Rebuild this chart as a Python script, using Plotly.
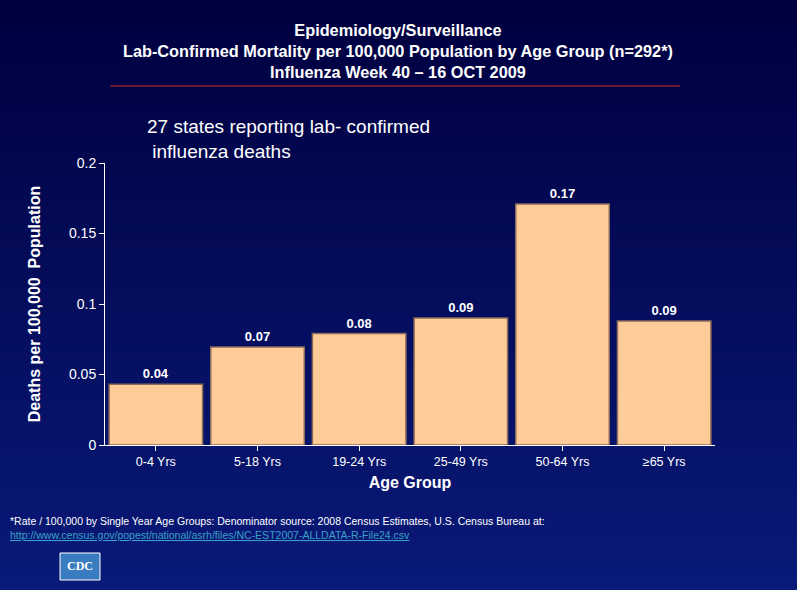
import plotly.graph_objects as go

categories = ["0-4 Yrs", "5-18 Yrs", "19-24 Yrs", "25-49 Yrs", "50-64 Yrs", "≥65 Yrs"]
values = [0.043, 0.0695, 0.079, 0.09, 0.171, 0.088]
labels = ["<b>0.04</b>", "<b>0.07</b>", "<b>0.08</b>", "<b>0.09</b>", "<b>0.17</b>", "<b>0.09</b>"]

W, H = 797, 590
fig = go.Figure(go.Bar(
    x=categories, y=values, text=labels, textposition="outside",
    textfont=dict(color="white", size=13, family="Arial, Liberation Sans"),
    marker=dict(color="#FFCC99", line=dict(color="#8a6a5a", width=1.5)),
    width=0.92, cliponaxis=False,
))

shapes = []
n = 60
top = (0, 0, 0x40)
bot = (0x0a, 0x1a, 0x78)
def px(x):
    return (x - 105) / (715 - 105)
def py(y):
    return (445 - y) / (445 - 163)
for i in range(n):
    t = i / (n - 1)
    c = tuple(int(top[k] + (bot[k] - top[k]) * t) for k in range(3))
    shapes.append(dict(type="rect", xref="paper", yref="paper", layer="below",
                       x0=px(-5), x1=px(805), y0=py(H * (i + 1) / n + 2), y1=py(H * i / n - 2),
                       fillcolor="rgb(%d,%d,%d)" % c, line=dict(width=0)))

shapes.append(dict(type="line", xref="paper", yref="paper", x0=px(110), x1=px(680),
                   y0=py(86), y1=py(86), line=dict(color="#d03020", width=1.2)))
shapes.append(dict(type="rect", xref="paper", yref="paper", x0=px(60), x1=px(100),
                   y0=py(580), y1=py(553), fillcolor="#3a7cc0", line=dict(color="white", width=1)))

def A(text, x, y, size, color="white", xanchor="center", **kw):
    return dict(text=text, x=px(x), y=py(y), xref="paper", yref="paper", xanchor=xanchor,
                yanchor="middle", showarrow=False,
                font=dict(size=size, color=color, family="Arial, Liberation Sans"), **kw)

ann = [
    A("<b>Epidemiology/Surveillance<br>Lab-Confirmed Mortality per 100,000 Population by Age Group (n=292*)<br>Influenza Week 40 – 16 OCT 2009</b>", 398, 51, 16.3),
    A("27 states reporting lab- confirmed<br> influenza deaths", 145, 139, 19, xanchor="left", align="left"),
    A("*Rate / 100,000 by Single Year Age Groups: Denominator source: 2008 Census Estimates, U.S. Census Bureau at:", 8, 521, 10.5, xanchor="left"),
    A("<u>http://www.census.gov/popest/national/asrh/files/NC-EST2007-ALLDATA-R-File24.csv</u>", 8, 535, 10.5, color="#3aa0c8", xanchor="left"),
    dict(text="<b>CDC</b>", x=px(80), y=py(566), xref="paper", yref="paper", showarrow=False,
         xanchor="center", yanchor="middle", font=dict(size=12, color="white", family="Liberation Serif")),
]

fig.update_layout(
    width=W, height=H, margin=dict(l=105, r=W - 715, t=163, b=H - 445),
    paper_bgcolor="#000040", plot_bgcolor="rgba(0,0,0,0)",
    shapes=shapes, annotations=ann, showlegend=False, bargap=0.08,
    font=dict(family="Arial, Liberation Sans", color="white"),
    xaxis=dict(title=dict(text="<b>Age Group</b>", font=dict(size=16), standoff=8),
               showline=True, linecolor="white", ticks="outside", tickcolor="white",
               tickfont=dict(size=12.5), showgrid=False),
    yaxis=dict(title=dict(text="<b>Deaths per 100,000  Population</b>", font=dict(size=16), standoff=24),
               range=[0, 0.2], tickvals=[0, 0.05, 0.1, 0.15, 0.2],
               ticktext=["0", "0.05", "0.1", "0.15", "0.2"],
               showline=True, linecolor="white", ticks="outside", tickcolor="white",
               tickfont=dict(size=14), showgrid=False, zeroline=False),
)
fig.write_html("out.html", config={"displayModeBar": False})
with open("out.html") as f:
    s = f.read()
s = s.replace("<head>", "<head><style>html,body{margin:0;padding:0;overflow:hidden;background:#000040}</style>", 1)
with open("out.html", "w") as f:
    f.write(s)
